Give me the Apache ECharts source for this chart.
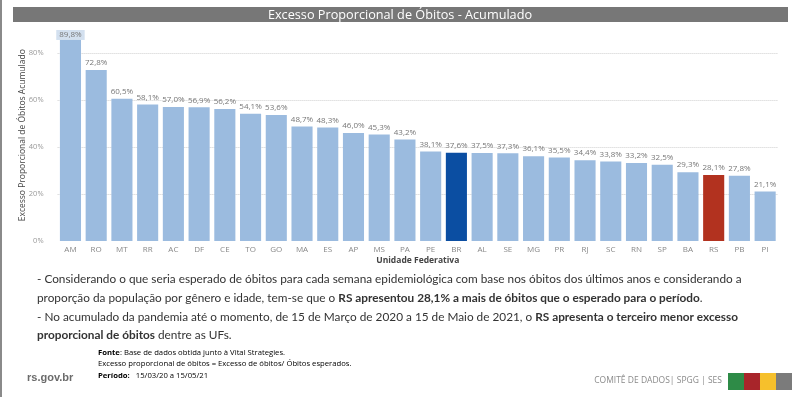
<!DOCTYPE html>
<html>
<head>
<meta charset="utf-8">
<script src="https://cdn.jsdelivr.net/npm/echarts@6/dist/echarts.min.js"></script>
<style>
html, body { margin: 0; padding: 0; background: #fff; }
#main { width: 800px; height: 397px; }
</style>
</head>
<body>
<div id="main"></div>
<script>
// dados do gráfico
var estados = ['AM', 'RO', 'MT', 'RR', 'AC', 'DF', 'CE', 'TO', 'GO', 'MA', 'ES', 'AP', 'MS', 'PA', 'PE', 'BR', 'AL', 'SE', 'MG', 'PR', 'RJ', 'SC', 'RN', 'SP', 'BA', 'RS', 'PB', 'PI'];
var excesso = [89.8, 72.8, 60.5, 58.1, 57.0, 56.9, 56.2, 54.1, 53.6, 48.7, 48.3, 46.0, 45.3, 43.2, 38.1, 37.6, 37.5, 37.3, 36.1, 35.5, 34.4, 33.8, 33.2, 32.5, 29.3, 28.1, 27.8, 21.1];
var destaques = { BR: '#0b4ea2', RS: '#b2321f' };

var corBarra = '#9bbbdf';
var fonte = '"Open Sans", "Noto Sans", sans-serif';
var fonteTexto = 'Lato, "Open Sans", sans-serif';

var myChart = echarts.init(document.getElementById('main'));

var dados = excesso.map(function (v, i) {
	var item = { value: v, itemStyle: { color: destaques[estados[i]] || corBarra } };
	if (i === 0) {
		// rótulo dentro da barra mais alta
		item.label = { position: 'insideTop', distance: 0, backgroundColor: '#d3e0ef', padding: [1, 3, 1, 3] };
	}
	return item;
});

option = {
	animation: false,
	grid: { left: 57.6, right: 22, top: 29.5, bottom: 156 },
	xAxis: {
		type: 'category',
		data: estados,
		name: 'Unidade Federativa',
		nameLocation: 'middle',
		nameGap: 15,
		nameMoveOverlap: false,
		nameTextStyle: { fontFamily: fonte, fontSize: 8.5, fontWeight: 'bold', color: '#444' },
		axisLine: { show: false },
		axisTick: { show: false },
		axisLabel: { fontFamily: fonte, fontSize: 8, color: '#888', margin: 5 }
	},
	yAxis: {
		type: 'value',
		min: 0,
		max: 90,
		interval: 20,
		name: 'Excesso Proporcional de Óbitos Acumulado',
		nameLocation: 'middle',
		nameGap: 31,
		nameMoveOverlap: false,
		nameTextStyle: { fontFamily: fonte, fontSize: 8.5, color: '#444' },
		axisLabel: {
			fontFamily: fonte, fontSize: 7.5, color: '#999', margin: 14,
			showMaxLabel: false,
			formatter: function (v) { return v + '%'; }
		},
		splitLine: {
			showMinLine: false, showMaxLine: false,
			lineStyle: { type: 'dotted', color: '#cfcfcf' }
		}
	},
	series: [
		{
			type: 'bar',
			data: dados,
			barCategoryGap: '18%',
			label: {
				show: true,
				position: 'top',
				distance: 3,
				fontFamily: fonte,
				fontSize: 8,
				color: '#777',
				formatter: function (p) { return p.value.toFixed(1).replace('.', ',') + '%'; }
			}
		}
	],
	graphic: [
		{ type: 'rect', shape: { x: 0, y: 0, width: 2, height: 397 }, style: { fill: '#8a8a8a' } },
		{ type: 'rect', shape: { x: 13, y: 7, width: 775, height: 15 }, style: { fill: '#777777' } },
		{
			type: 'text', x: 400, y: 15,
			style: { text: 'Excesso Proporcional de Óbitos - Acumulado', fill: '#fff', font: '12.7px ' + fonte, align: 'center', verticalAlign: 'middle' }
		},
		{
			type: 'text', x: 37, y: 270,
			style: {
				text: '{n|- Considerando o que seria esperado de óbitos para cada semana epidemiológica com base nos óbitos dos últimos anos e considerando a}\n' +
					'{n|proporção da população por gênero e idade, tem-se que o }{b|RS apresentou 28,1% a mais de óbitos que o esperado para o período}{n|.}\n' +
					'{n|- No acumulado da pandemia até o momento, de 15 de Março de 2020 a 15 de Maio de 2021, o }{b|RS apresenta o terceiro menor excesso}\n' +
					'{b|proporcional de óbitos}{n| dentre as UFs.}',
				fill: '#333',
				rich: {
					n: { fontFamily: fonteTexto, fontSize: 11.8, color: '#333', lineHeight: 18.7 },
					b: { fontFamily: fonteTexto, fontSize: 11.8, color: '#222', fontWeight: 'bold', lineHeight: 18.7 }
				}
			}
		},
		{
			type: 'text', x: 98, y: 347,
			style: {
				text: '{b|Fonte}{n|: Base de dados obtida junto à Vital Strategies.}\n' +
					'{n|Excesso proporcional de óbitos = Excesso de óbitos/ Óbitos esperados.}\n' +
					'{b|Período:}{n|   15/03/20 a 15/05/21}',
				rich: {
					n: { fontFamily: fonte, fontSize: 7.7, color: '#333', lineHeight: 11.5 },
					b: { fontFamily: fonte, fontSize: 7.7, color: '#222', fontWeight: 'bold', lineHeight: 11.5 }
				}
			}
		},
		{
			type: 'text', x: 27, y: 378,
			style: { text: 'rs.gov.br', fill: '#6b6b6b', font: 'bold 11px "Liberation Sans", Arial, sans-serif', verticalAlign: 'middle' }
		},
		{
			type: 'text', x: 722, y: 381,
			style: { text: 'COMITÊ DE DADOS| SPGG | SES', fill: '#8a8a8a', font: '8.5px ' + fonte, align: 'right', verticalAlign: 'middle' }
		},
		{ type: 'rect', shape: { x: 728, y: 373, width: 16, height: 17 }, style: { fill: '#2e8b47' } },
		{ type: 'rect', shape: { x: 744, y: 373, width: 16, height: 17 }, style: { fill: '#a8252a' } },
		{ type: 'rect', shape: { x: 760, y: 373, width: 16, height: 17 }, style: { fill: '#f6c02c' } },
		{ type: 'rect', shape: { x: 776, y: 373, width: 16, height: 17 }, style: { fill: '#7b7b7b' } }
	]
};

myChart.setOption(option);
</script>
</body>
</html>
